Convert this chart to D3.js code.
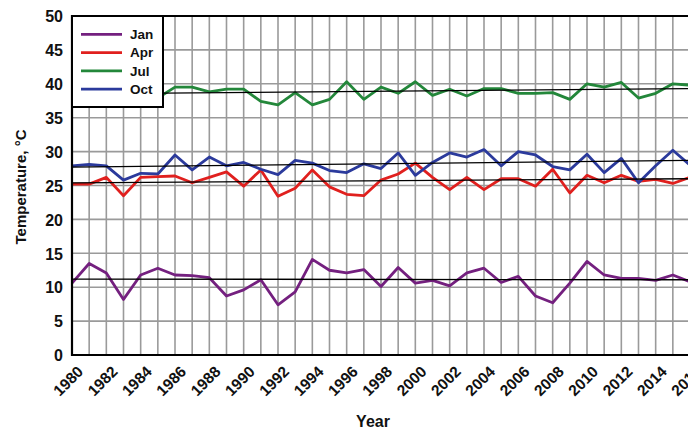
<!DOCTYPE html>
<html>
<head>
<meta charset="utf-8">
<script src="https://cdn.jsdelivr.net/npm/d3@7"></script>
<style>
  html, body { margin: 0; padding: 0; background: #fff; overflow: hidden; }
  svg { display: block; font-family: "Liberation Sans", Arial, sans-serif; }
</style>
</head>
<body>
<svg id="chart" width="688" height="433"></svg>
<script>
// Monthly mean temperatures (°C), 1980–2016
const years = d3.range(1980, 2017);
const janValues = [10.6, 13.5, 12.1, 8.2, 11.8, 12.8, 11.8, 11.7, 11.4, 8.7, 9.6, 11.1, 7.4,
  9.3, 14.1, 12.5, 12.1, 12.6, 10.1, 12.9, 10.6, 11.0, 10.2, 12.1, 12.8, 10.7, 11.6, 8.7, 7.7,
  10.6, 13.8, 11.8, 11.3, 11.3, 11.0, 11.8, 10.8];
const aprValues = [25.2, 25.2, 26.2, 23.5, 26.2, 26.3, 26.4, 25.4, 26.2, 27.0, 24.9, 27.3, 23.4,
  24.6, 27.3, 24.8, 23.7, 23.5, 25.8, 26.7, 28.3, 26.2, 24.4, 26.2, 24.4, 26.0, 26.0, 24.9, 27.4,
  23.9, 26.5, 25.4, 26.5, 25.6, 25.9, 25.3, 26.2];
const julValues = [36.8, 37.6, 38.3, 37.2, 37.5, 37.9, 39.5, 39.5, 38.8, 39.2, 39.2, 37.4, 36.9,
  38.7, 36.9, 37.7, 40.3, 37.7, 39.5, 38.6, 40.3, 38.3, 39.2, 38.2, 39.3, 39.3, 38.6, 38.6, 38.7,
  37.7, 40.0, 39.5, 40.2, 37.9, 38.6, 40.0, 39.8];
const octValues = [27.9, 28.1, 27.9, 25.8, 26.8, 26.7, 29.5, 27.3, 29.2, 27.9, 28.4, 27.4, 26.6,
  28.7, 28.3, 27.2, 26.9, 28.2, 27.5, 29.8, 26.5, 28.4, 29.8, 29.2, 30.3, 27.9, 30.0, 29.5, 27.8,
  27.3, 29.6, 26.9, 29.0, 25.4, 27.9, 30.2, 28.0];

// Linear trend endpoints (1980 value, 2016 value)
const janTrend = [11.2, 11.1];
const aprTrend = [25.4, 26.0];
const julTrend = [38.5, 39.3];
const octTrend = [27.7, 28.7];

const seriesNames = ["Jan", "Apr", "Jul", "Oct"];
const seriesColors = ["#74207f", "#e0201e", "#23873a", "#2b3a9c"];
const yTicks = [0, 5, 10, 15, 20, 25, 30, 35, 40, 45, 50];
const xTickYears = d3.range(1980, 2017, 2);

const series = [
  { name: seriesNames[0], values: janValues, trend: janTrend, color: seriesColors[0] },
  { name: seriesNames[1], values: aprValues, trend: aprTrend, color: seriesColors[1] },
  { name: seriesNames[2], values: julValues, trend: julTrend, color: seriesColors[2] },
  { name: seriesNames[3], values: octValues, trend: octTrend, color: seriesColors[3] }
];

const svg = d3.select("#chart");
const plotLeft = 72, plotRight = 690, plotTop = 16, plotBottom = 355;

const x = d3.scaleLinear().domain([1980, 2016]).range([plotLeft, plotRight]);
const y = d3.scaleLinear().domain([0, 50]).range([plotBottom, plotTop]);

// Grid
const grid = svg.append("g");
grid.selectAll("line.v").data(years).join("line")
  .attr("class", "v")
  .attr("x1", d => x(d)).attr("x2", d => x(d))
  .attr("y1", plotTop).attr("y2", plotBottom)
  .attr("stroke", "#9a9a9a").attr("stroke-width", 1.6);
grid.selectAll("line.h").data(yTicks).join("line")
  .attr("class", "h")
  .attr("x1", plotLeft).attr("x2", plotRight)
  .attr("y1", d => y(d)).attr("y2", d => y(d))
  .attr("stroke", "#9a9a9a").attr("stroke-width", 1.6);

// Data lines
const line = d3.line().x((d, i) => x(years[i])).y(d => y(d));
svg.append("g").selectAll("path").data(series).join("path")
  .attr("d", d => line(d.values))
  .attr("fill", "none")
  .attr("stroke", d => d.color)
  .attr("stroke-width", 2.8)
  .attr("stroke-linejoin", "round");

// Trend lines
svg.append("g").selectAll("line").data(series).join("line")
  .attr("x1", x(1980)).attr("x2", x(2016))
  .attr("y1", d => y(d.trend[0])).attr("y2", d => y(d.trend[1]))
  .attr("stroke", "#000").attr("stroke-width", 1.3);

// Plot frame
svg.append("path")
  .attr("d", `M${plotRight},${plotTop}H${plotLeft}V${plotBottom}H${plotRight}`)
  .attr("fill", "none").attr("stroke", "#000").attr("stroke-width", 2.2);

// Y axis labels
const yAxis = d3.axisLeft(y).tickValues(yTicks).tickSize(0).tickPadding(9);
const yg = svg.append("g").attr("transform", `translate(${plotLeft},0)`).call(yAxis);
yg.select(".domain").remove();
yg.selectAll("text")
  .attr("font-family", "Liberation Sans, Arial, sans-serif")
  .attr("font-size", 16).attr("font-weight", "bold").attr("fill", "#111")
  .attr("dy", "0.36em");

// X axis labels, rotated
const xAxis = d3.axisBottom(x).tickValues(xTickYears).tickFormat(d3.format("d")).tickSize(0);
const xg = svg.append("g").attr("transform", `translate(0,${plotBottom})`).call(xAxis);
xg.select(".domain").remove();
xg.selectAll(".tick text")
  .attr("font-family", "Liberation Sans, Arial, sans-serif")
  .attr("font-size", 15.5).attr("font-weight", "bold").attr("fill", "#111")
  .attr("text-anchor", "end")
  .attr("y", 0).attr("dy", "0.7em")
  .attr("transform", "translate(4,10) rotate(-45)");

// Axis titles
svg.append("text")
  .attr("x", 373).attr("y", 427)
  .attr("text-anchor", "middle")
  .attr("font-size", 16).attr("font-weight", "bold").attr("fill", "#111")
  .text("Year");
svg.append("text")
  .attr("transform", "translate(26,187) rotate(-90)")
  .attr("text-anchor", "middle")
  .attr("font-size", 15).attr("font-weight", "bold").attr("fill", "#111")
  .text("Temperature, °C");

// Legend
const legend = svg.append("g");
legend.append("rect")
  .attr("x", plotLeft).attr("y", plotTop).attr("width", 91).attr("height", 91)
  .attr("fill", "#fff").attr("stroke", "#000").attr("stroke-width", 2);
const items = legend.selectAll("g.item").data(series).join("g")
  .attr("class", "item")
  .attr("transform", (d, i) => `translate(0,${34.3 + i * 18.3})`);
items.append("line")
  .attr("x1", 81).attr("x2", 122).attr("y1", 0).attr("y2", 0)
  .attr("stroke", d => d.color).attr("stroke-width", 2.8);
items.append("text")
  .attr("x", 130).attr("y", 0).attr("dy", "0.36em")
  .attr("font-size", 13.5).attr("font-weight", "bold").attr("fill", "#111")
  .text(d => d.name);
</script>
</body>
</html>
